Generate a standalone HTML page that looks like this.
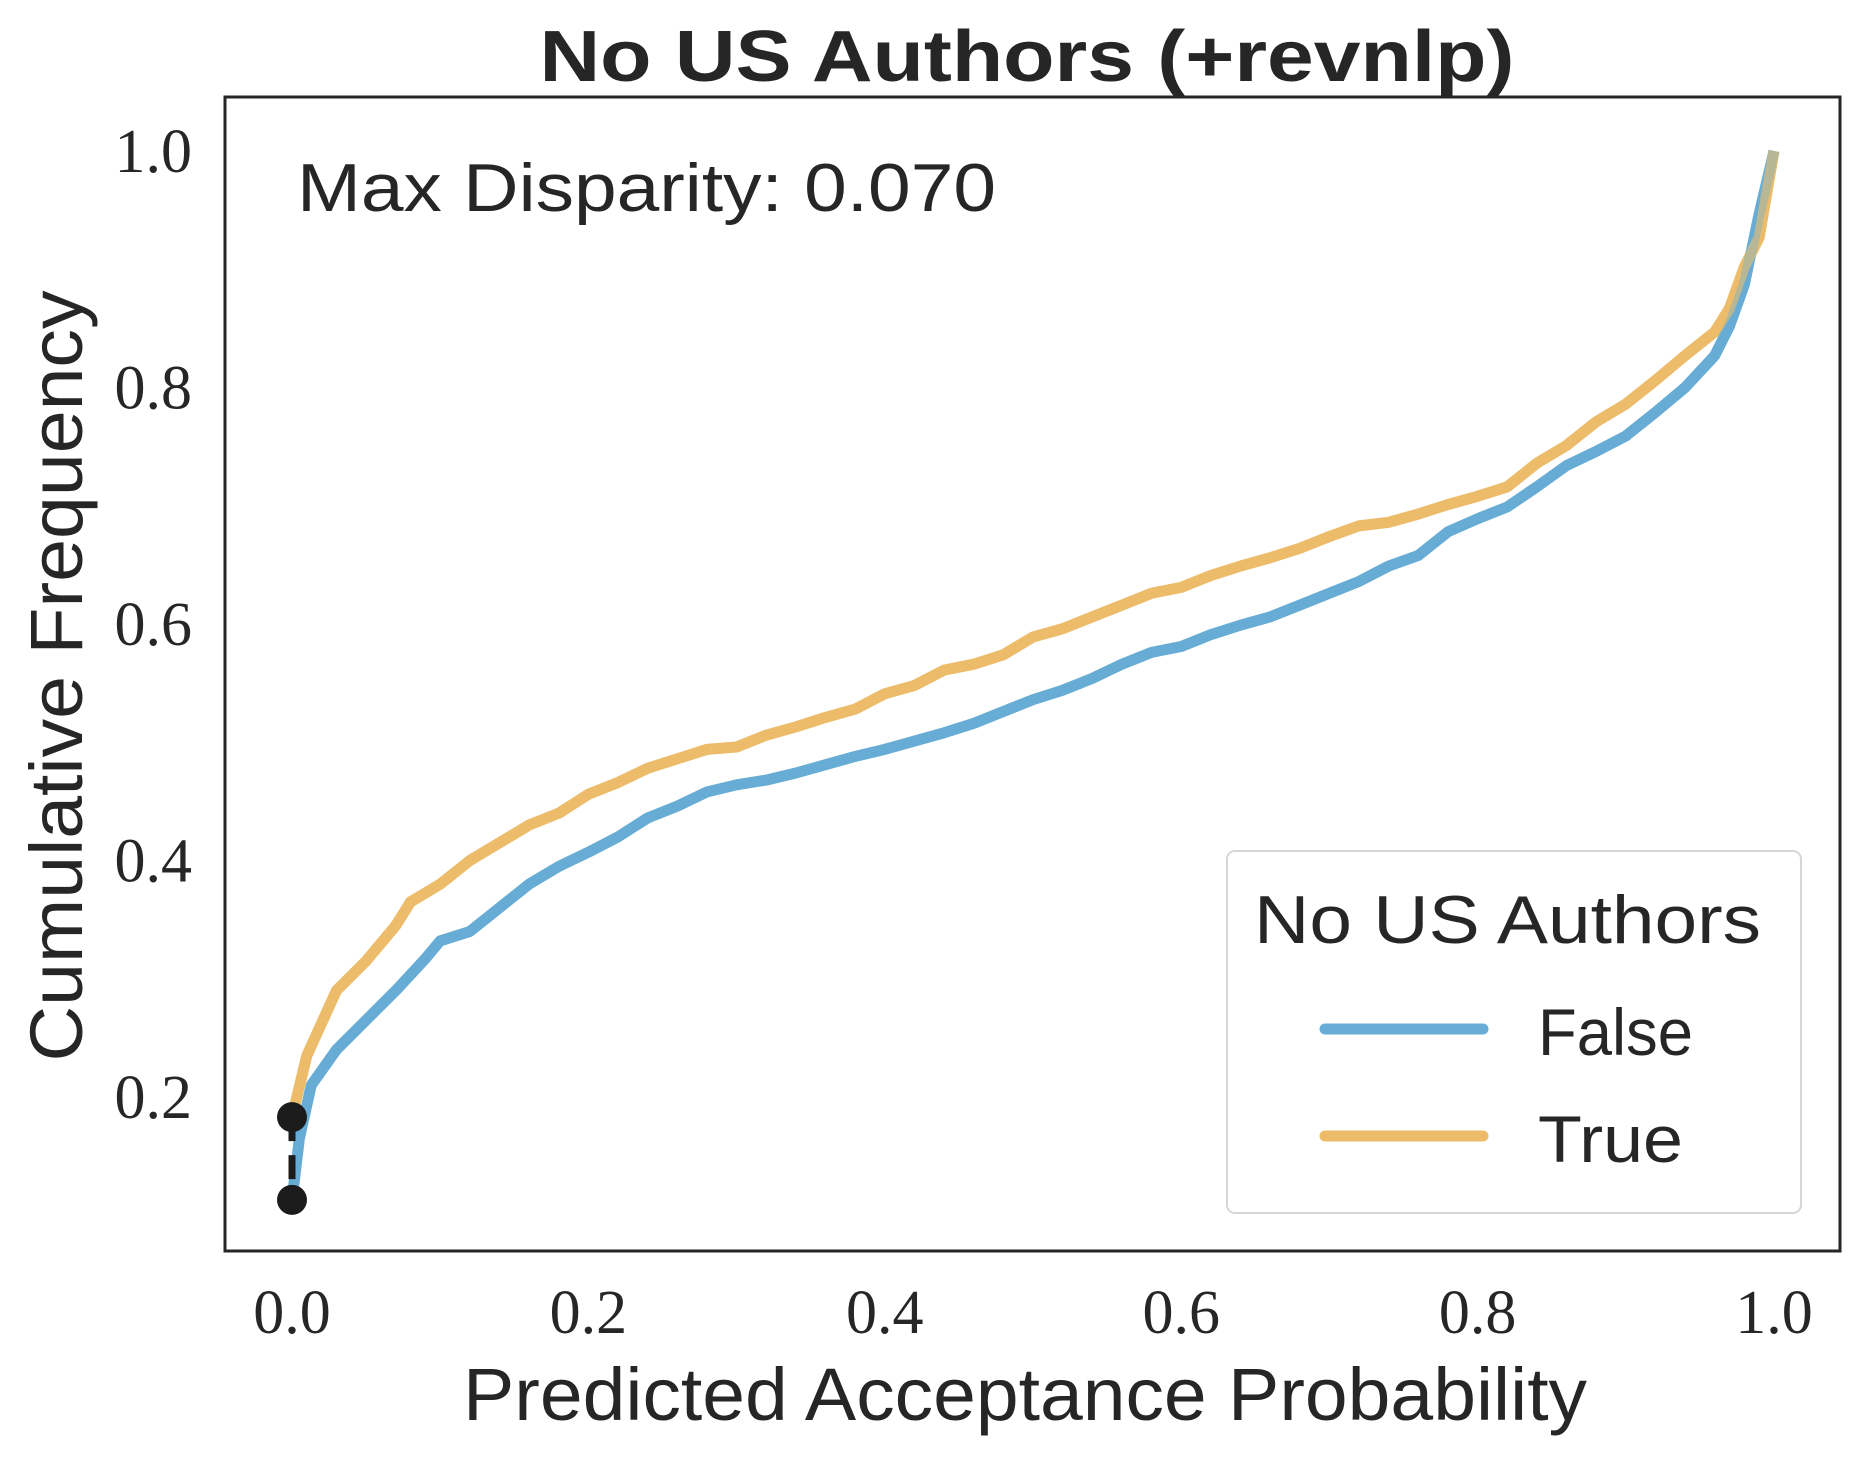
<!DOCTYPE html>
<html><head><meta charset="utf-8"><style>
html,body{margin:0;padding:0;background:#fff;}
svg{display:block;}
</style></head><body>
<svg id="chart" width="1860" height="1459" xmlns="http://www.w3.org/2000/svg">
<rect width="1860" height="1459" fill="#fff"/>
<g id="plot"></g>
<rect x="225" y="97" width="1615" height="1154" fill="none" stroke="#262626" stroke-width="3"/>
<text x="1027" y="81" text-anchor="middle" font-family="Liberation Sans, sans-serif" font-weight="bold" font-size="72" fill="#262626" textLength="975" lengthAdjust="spacingAndGlyphs">No US Authors (+revnlp)</text>
<text x="297" y="211" font-family="Liberation Sans, sans-serif" font-size="68" fill="#262626" textLength="699" lengthAdjust="spacingAndGlyphs">Max Disparity: 0.070</text>
<text x="1025" y="1420" text-anchor="middle" font-family="Liberation Sans, sans-serif" font-size="74" fill="#262626" textLength="1124" lengthAdjust="spacingAndGlyphs">Predicted Acceptance Probability</text>
<text transform="translate(82,676) rotate(-90)" text-anchor="middle" font-family="Liberation Sans, sans-serif" font-size="74" fill="#262626" textLength="771" lengthAdjust="spacingAndGlyphs">Cumulative Frequency</text>
<g id="ticks"></g>
<g>
<rect x="1227" y="851" width="574" height="362" rx="8" fill="#fff" stroke="#d6d6d6" stroke-width="2"/>
<text x="1254" y="943" font-family="Liberation Sans, sans-serif" font-size="68" fill="#262626" textLength="507" lengthAdjust="spacingAndGlyphs">No US Authors</text>
<line x1="1325" y1="1029" x2="1483" y2="1029" stroke="#67acd4" stroke-width="11" stroke-linecap="round"/>
<text x="1538" y="1055" font-family="Liberation Sans, sans-serif" font-size="66" fill="#262626" textLength="155" lengthAdjust="spacingAndGlyphs">False</text>
<line x1="1325" y1="1136" x2="1483" y2="1136" stroke="#ecbc6a" stroke-width="11" stroke-linecap="round"/>
<text x="1538" y="1162" font-family="Liberation Sans, sans-serif" font-size="66" fill="#262626" textLength="145" lengthAdjust="spacingAndGlyphs">True</text>
</g>
</svg>
<script>
const xsFalse=[0,0.005,0.013,0.03,0.05,0.07,0.09,0.10,0.12,0.14,0.16,0.18,0.20,0.22,0.24,0.26,0.28,0.30,0.32,0.34,0.36,0.38,0.40,0.42,0.44,0.46,0.48,0.50,0.52,0.54,0.56,0.58,0.60,0.62,0.64,0.66,0.68,0.70,0.72,0.74,0.76,0.78,0.80,0.82,0.84,0.86,0.88,0.90,0.92,0.94,0.96,0.97,0.98,0.99,1.0];
const ysFalse=[0.113,0.165,0.21,0.24,0.265,0.29,0.317,0.332,0.34,0.36,0.38,0.395,0.407,0.42,0.436,0.446,0.458,0.464,0.468,0.474,0.481,0.488,0.494,0.501,0.508,0.516,0.526,0.536,0.544,0.554,0.566,0.576,0.581,0.591,0.599,0.606,0.616,0.626,0.636,0.649,0.658,0.678,0.689,0.699,0.716,0.734,0.746,0.759,0.779,0.80,0.827,0.852,0.887,0.947,1.0];
const xsTrue=[0,0.01,0.03,0.05,0.07,0.08,0.10,0.12,0.14,0.16,0.18,0.20,0.22,0.24,0.26,0.28,0.30,0.32,0.34,0.36,0.38,0.40,0.42,0.44,0.46,0.48,0.50,0.52,0.54,0.56,0.58,0.60,0.62,0.64,0.66,0.68,0.70,0.72,0.74,0.76,0.78,0.80,0.82,0.84,0.86,0.88,0.90,0.92,0.94,0.96,0.97,0.98,0.99,1.0];
const ysTrue=[0.183,0.235,0.29,0.315,0.345,0.365,0.38,0.40,0.415,0.43,0.44,0.456,0.466,0.478,0.486,0.494,0.496,0.506,0.513,0.521,0.528,0.541,0.548,0.561,0.566,0.574,0.589,0.596,0.606,0.616,0.626,0.631,0.641,0.649,0.656,0.664,0.674,0.683,0.686,0.693,0.701,0.708,0.716,0.736,0.751,0.771,0.786,0.806,0.827,0.847,0.867,0.902,0.927,1.0];
const xTicks=[0,0.2,0.4,0.6,0.8,1.0];
const yTicks=[0.2,0.4,0.6,0.8,1.0];
const disparityX=0;
const disparityTop=0.183;
const disparityBottom=0.113;

const NS="http://www.w3.org/2000/svg";
const X=v=>292+1482*v;
const Y=v=>151+(1-v)*1182.5;
const plot=document.getElementById('plot');
const ticks=document.getElementById('ticks');
function mk(tag,attrs,parent){const e=document.createElementNS(NS,tag);for(const k in attrs)e.setAttribute(k,attrs[k]);parent.appendChild(e);return e;}

const pt=mk('polyline',{points:xsTrue.map((x,i)=>X(x)+','+Y(ysTrue[i])).join(' '),fill:'none',stroke:'#ecbc6a','stroke-width':11,'stroke-linejoin':'round'},plot);


const pf=mk('polyline',{points:xsFalse.map((x,i)=>X(x)+','+Y(ysFalse[i])).join(' '),fill:'none',stroke:'#67acd4','stroke-width':11,'stroke-linejoin':'round'},plot);


const pt2=mk('polyline',{points:xsTrue.map((x,i)=>X(x)+','+Y(ysTrue[i])).join(' '),fill:'none',stroke:'#ecbc6a','stroke-width':11,'stroke-linejoin':'round',opacity:0.6},plot);



const dl=mk('line',{x1:X(disparityX),x2:X(disparityX),y1:Y(disparityTop),y2:Y(disparityBottom),stroke:'#1c1c1c','stroke-width':7,'stroke-dasharray':'24,14'},plot);


const d1=mk('circle',{cx:X(disparityX),cy:Y(disparityTop),r:15,fill:'#1c1c1c'},plot);


const d2=mk('circle',{cx:X(disparityX),cy:Y(disparityBottom),r:15,fill:'#1c1c1c'},plot);



xTicks.forEach(v=>{
  const t=mk('text',{x:X(v),y:1333,'text-anchor':'middle','font-family':'Liberation Serif, serif','font-size':62,fill:'#262626'},ticks);
  t.textContent=v.toFixed(1);
  
  
});
yTicks.forEach(v=>{
  const t=mk('text',{x:192,y:Y(v)+21,'text-anchor':'end','font-family':'Liberation Serif, serif','font-size':62,fill:'#262626'},ticks);
  t.textContent=v.toFixed(1);
  
  
});
</script>
</body></html>
